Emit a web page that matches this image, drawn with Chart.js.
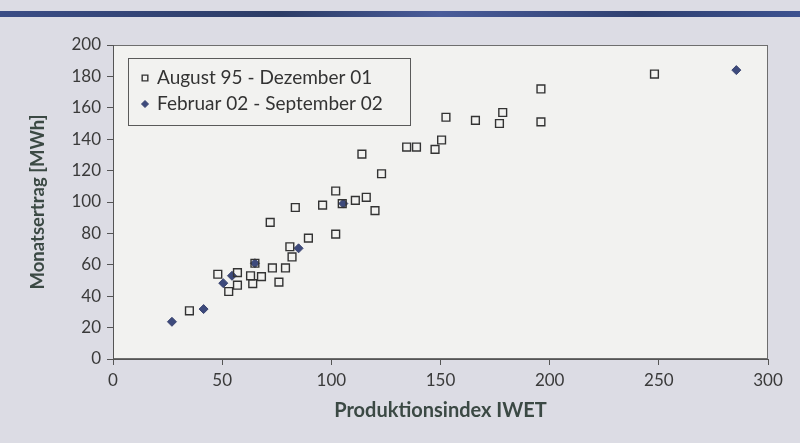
<!DOCTYPE html>
<html>
<head>
<meta charset="utf-8">
<script src="https://cdn.jsdelivr.net/npm/chart.js@4.4.0/dist/chart.umd.min.js"></script>
<style>
  html, body { margin: 0; padding: 0; background: #dcdce4; }
  .wrap { position: relative; width: 800px; height: 443px; overflow: hidden; }
  .stripe {
    position: absolute; left: 0; top: 11px; width: 800px; height: 6px;
    background: linear-gradient(to right, #3b4d86, #2c3c66 35%, #4a5c9a 55%, #2f4070 80%, #3d5290);
  }
  canvas { position: absolute; left: 0; top: 0; }
</style>
</head>
<body>
<div class="wrap">
  <div class="stripe"></div>
  <canvas id="ertragChart" width="800" height="443"></canvas>
</div>
<script>
// Monatsertrag gegen Produktionsindex
const seriesNames = ['August 95 - Dezember 01', 'Februar 02 - September 02'];

// August 95 - Dezember 01
const indexAlt = [35, 48, 53, 57, 57, 63, 64, 65, 68, 73, 79, 76, 81, 82, 72, 83.5, 89.5, 96, 102, 102, 105, 111, 116, 120, 123, 114, 134.5, 139, 147.5, 150.5, 152.5, 166, 178.5, 177, 196, 196, 248];
const ertragAlt = [30.7, 54, 43, 47, 55, 53, 48, 61, 52.5, 58, 58, 49, 71.5, 65, 87, 96.5, 77, 98, 79.5, 107, 99, 101, 103, 94.5, 118, 130.5, 135, 135, 133.5, 139.5, 154, 152, 157, 150, 172, 151, 181.5];

// Februar 02 - September 02
const indexNeu = [27, 41.5, 50.5, 54.5, 65, 85, 105.5, 285.5];
const ertragNeu = [23.7, 31.8, 48.3, 53, 61, 70.5, 99, 184];

const xTicks = [0, 50, 100, 150, 200, 250, 300];
const yTicks = [0, 20, 40, 60, 80, 100, 120, 140, 160, 180, 200];

const toPoints = (xs, ys) => xs.map((x, i) => ({ x: x, y: ys[i] }));

const fontFamily = 'Lato, "Open Sans", sans-serif';

// plot background and frame
const plotFrame = {
  id: 'plotFrame',
  beforeDraw(chart) {
    const { ctx, chartArea: a } = chart;
    ctx.save();
    ctx.fillStyle = '#f2f2f0';
    ctx.fillRect(a.left, a.top, a.width, a.height);
    ctx.strokeStyle = '#6e6e6e';
    ctx.lineWidth = 1;
    ctx.strokeRect(a.left + 0.5, a.top + 0.5, a.width - 1, a.height - 1);
    ctx.restore();
  }
};

// legend box inside the plot, top left
const boxLegend = {
  id: 'boxLegend',
  afterDatasetsDraw(chart) {
    const { ctx, chartArea: a } = chart;
    const x0 = a.left + 15, y0 = a.top + 13, w = 282, h = 67;
    ctx.save();
    ctx.fillStyle = '#f2f2f0';
    ctx.fillRect(x0, y0, w, h);
    ctx.strokeStyle = '#5a5a5a';
    ctx.lineWidth = 1;
    ctx.strokeRect(x0 + 0.5, y0 + 0.5, w, h);
    ctx.font = '19px ' + fontFamily;
    ctx.textBaseline = 'middle';
    chart.data.datasets.forEach((ds, i) => {
      const cy = y0 + 20 + i * 26;
      ctx.fillStyle = ds.backgroundColor;
      ctx.strokeStyle = ds.borderColor;
      ctx.lineWidth = ds.borderWidth;
      Chart.helpers.drawPoint(ctx, { pointStyle: ds.pointStyle, radius: i === 0 ? 4 : 3.5, rotation: 0, borderWidth: ds.borderWidth }, x0 + 17, cy);
      ctx.fillStyle = '#333333';
      ctx.fillText(ds.label, x0 + 29, cy);
    });
    ctx.restore();
  }
};

new Chart(document.getElementById('ertragChart').getContext('2d'), {
  type: 'scatter',
  data: {
    datasets: [
      {
        label: seriesNames[0],
        data: toPoints(indexAlt, ertragAlt),
        pointStyle: 'rect',
        pointRadius: 5.5,
        borderColor: '#333333',
        backgroundColor: 'rgba(0,0,0,0)',
        borderWidth: 1.4,
      },
      {
        label: seriesNames[1],
        data: toPoints(indexNeu, ertragNeu),
        pointStyle: 'rectRot',
        pointRadius: 4.5,
        borderColor: '#3a4470',
        backgroundColor: '#3d4a7c',
        borderWidth: 1,
      },
    ],
  },
  options: {
    responsive: false,
    animation: false,
    layout: { padding: { top: 45, right: 32, left: 0, bottom: 0 } },
    plugins: {
      legend: { display: false },
      tooltip: { enabled: false },
    },
    scales: {
      x: {
        type: 'linear',
        min: xTicks[0],
        max: xTicks[xTicks.length - 1],
        afterBuildTicks: (scale) => { scale.ticks = xTicks.map(v => ({ value: v })); },
        afterFit: (scale) => { scale.height = 84; },
        border: { color: '#555555', width: 1 },
        grid: { drawOnChartArea: false, tickLength: 6, color: '#555555' },
        ticks: { color: '#3a3a3a', padding: 5, font: { family: fontFamily, size: 17 } },
        title: {
          display: true,
          text: 'Produktionsindex IWET',
          color: '#3b4944',
          font: { family: fontFamily, size: 20, weight: 'bold' },
          padding: { top: 0, bottom: 20 },
        },
      },
      y: {
        type: 'linear',
        min: yTicks[0],
        max: yTicks[yTicks.length - 1],
        afterBuildTicks: (scale) => { scale.ticks = yTicks.map(v => ({ value: v })); },
        afterFit: (scale) => { scale.width = 113; },
        border: { color: '#555555', width: 1 },
        grid: { drawOnChartArea: false, tickLength: 6, color: '#555555' },
        ticks: { color: '#3a3a3a', padding: 6, font: { family: fontFamily, size: 17 } },
        title: {
          display: true,
          text: 'Monatsertrag [MWh]',
          color: '#3b4944',
          font: { family: fontFamily, size: 18.5, weight: 'bold' },
          padding: { top: 27, bottom: 0 },
        },
      },
    },
  },
  plugins: [plotFrame, boxLegend],
});
</script>
</body>
</html>
